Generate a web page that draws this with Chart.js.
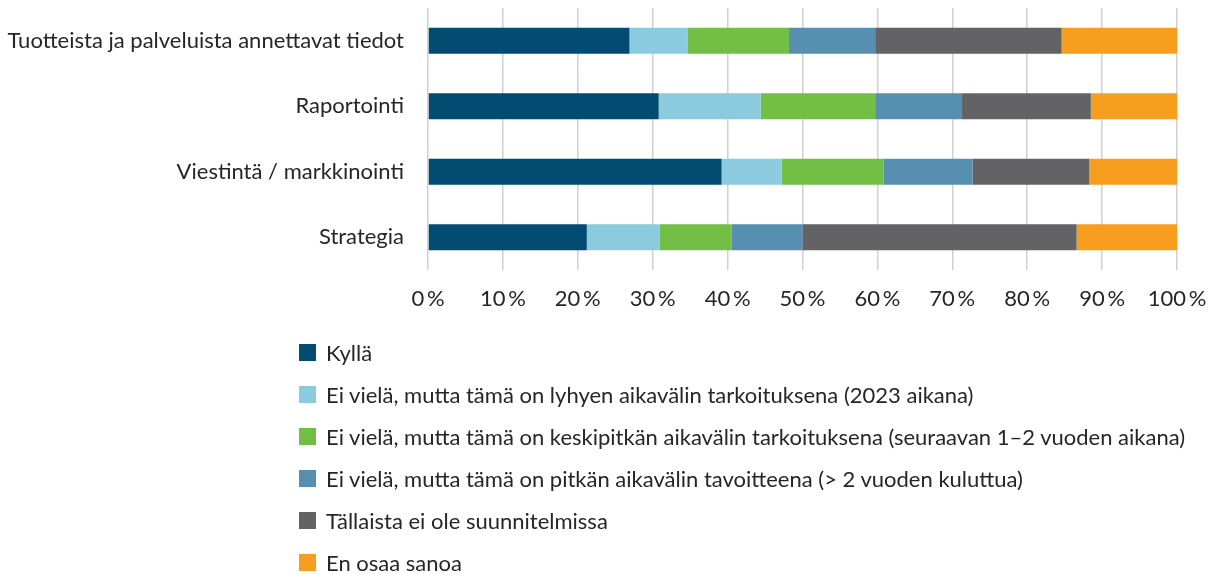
<!DOCTYPE html>
<html>
<head>
<meta charset="utf-8">
<script src="https://cdn.jsdelivr.net/npm/chart.js@4"></script>
<style>
  body { margin: 0; background: #fff; }
  #wrap { position: relative; width: 1215px; height: 574px; }
  #legend { position: absolute; left: 299px; top: 331px; font-family: Lato, sans-serif; font-size: 22px; color: #262626; }
  .item { height: 42.1px; display: flex; align-items: center; white-space: nowrap; }
  .box { width: 17px; height: 17px; margin-right: 10px; flex: none; }
</style>
</head>
<body>
<div id="wrap">
  <canvas id="chart" width="1215" height="574"></canvas>
  <div id="legend"></div>
</div>
<script>
let categories = [
    "Tuotteista ja palveluista annettavat tiedot",
    "Raportointi",
    "Viestintä / markkinointi",
    "Strategia"
];

let seriesNames = [
    "Kyllä",
    "Ei vielä, mutta tämä on lyhyen aikavälin tarkoituksena (2023 aikana)",
    "Ei vielä, mutta tämä on keskipitkän aikavälin tarkoituksena (seuraavan 1–2 vuoden aikana)",
    "Ei vielä, mutta tämä on pitkän aikavälin tavoitteena (> 2 vuoden kuluttua)",
    "Tällaista ei ole suunnitelmissa",
    "En osaa sanoa"
];

// percent per category, in category order
let kylla      = [26.9, 30.8, 39.2, 21.2];
let lyhyt      = [7.8, 13.6, 8.0, 9.7];
let keskipitka = [13.5, 15.3, 13.6, 9.6];
let pitka      = [11.5, 11.6, 11.9, 9.5];
let eiSuunn    = [24.9, 17.2, 15.6, 36.6];
let enOsaa     = [15.4, 11.5, 11.7, 13.4];

let colors = ["#024c71", "#8ccae0", "#73bf45", "#578fb1", "#636365", "#f79e1f"];

let seriesData = [kylla, lyhyt, keskipitka, pitka, eiSuunn, enOsaa];

let datasets = seriesData.map(function (d, i) {
    return {
        label: seriesNames[i],
        data: d,
        backgroundColor: colors[i],
        borderWidth: 0,
        barPercentage: 0.4,
        categoryPercentage: 1
    };
});

let ctx = document.getElementById("chart").getContext("2d");

let chart = new Chart(ctx, {
    type: "bar",
    data: { labels: categories, datasets: datasets },
    options: {
        indexAxis: "y",
        responsive: false,
        animation: false,
        layout: { padding: { top: 8, right: 38, left: 0, bottom: 0 } },
        plugins: { legend: { display: false }, tooltip: { enabled: false } },
        scales: {
            x: {
                stacked: true,
                min: 0,
                max: 100,
                ticks: {
                    stepSize: 10,
                    padding: 16,
                    color: "#262626",
                    font: { family: "Lato", size: 22 },
                    callback: function (v) { return v + "\u2009%"; }
                },
                grid: { color: "#d0d0d0", lineWidth: 1.5, drawTicks: false },
                border: { display: false },
                afterFit: function (scale) {
                    scale.height = 304;
                    scale.paddingLeft = 0;
                    scale.paddingRight = 0;
                }
            },
            y: {
                stacked: true,
                ticks: {
                    padding: 16,
                    color: "#262626",
                    font: { family: "Lato", size: 22 }
                },
                grid: { display: false },
                border: { display: false },
                afterFit: function (scale) {
                    scale.width = 428;
                    scale.paddingTop = 0;
                    scale.paddingBottom = 0;
                }
            }
        }
    }
});

// legend as a vertical list
let legendDiv = document.getElementById("legend");
chart.data.datasets.forEach(function (ds) {
    let row = document.createElement("div");
    row.className = "item";
    row.innerHTML = '<span class="box" style="background:' + ds.backgroundColor + '"></span>' + ds.label;
    legendDiv.appendChild(row);
});
</script>
</body>
</html>
